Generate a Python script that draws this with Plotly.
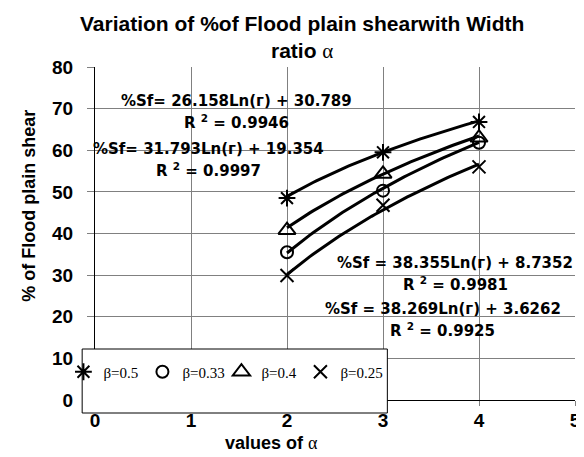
import numpy as np
import plotly.graph_objects as go

# ---- data ----
alpha = [2, 3, 4]
series_names = ["β=0.5", "β=0.33", "β=0.4", "β=0.25"]
shear_b050 = [48.5, 59.5, 66.8]
shear_b033 = [35.5, 50.3, 61.8]
shear_b040 = [40.8, 54.3, 63.0]
shear_b025 = [29.9, 46.8, 56.0]
# printed log trend-line coefficients (%Sf = a*Ln(alpha) + b)
trend_a = [26.158, 38.355, 31.793, 38.269]
trend_b = [30.789, 8.7352, 19.354, 3.6262]
trend_r2 = ["0.9946", "0.9981", "0.9997", "0.9925"]
x_ticks = [0, 1, 2, 3, 4, 5]
y_ticks = [0, 10, 20, 30, 40, 50, 60, 70, 80]

values = [shear_b050, shear_b033, shear_b040, shear_b025]
symbols = ["asterisk-open", "circle-open", "triangle-up-open", "x-thin-open"]
sizes = [14, 12, 15, 13]

SANS = "Liberation Sans"
fig = go.Figure()

xs = np.linspace(min(alpha), max(alpha), 60)
for a, b in zip(trend_a, trend_b):
    fig.add_trace(go.Scatter(x=xs, y=a * np.log(xs) + b, mode="lines",
                             line=dict(color="black", width=3),
                             showlegend=False, hoverinfo="skip"))

for name, v, sym, sz in zip(series_names, values, symbols, sizes):
    fig.add_trace(go.Scatter(x=alpha, y=v, mode="markers", name=name,
                             marker=dict(symbol=sym, size=sz, color="black",
                                         line=dict(color="black", width=2))))

# empty spacer entry so the last legend label is not clipped
fig.add_trace(go.Scatter(x=[None], y=[None], mode="markers", name="",
                         marker=dict(color="rgba(0,0,0,0)", size=1),
                         hoverinfo="skip"))

# equation labels (x center px, y center px)
eq_pos = {0: (230, 93, "%Sf= "), 2: (202, 141, "%Sf= "),
          1: (452, 255, "%Sf = "), 3: (439, 301, "%Sf = ")}
L, R, T, B = 87, 573, 59, 392
def px(xp):
    return (xp - L) / (R - L)
def py(yp):
    return (B - yp) / (B - T)

for i, (cx, cy, pre) in eq_pos.items():
    fig.add_annotation(x=px(cx), y=py(cy), xref="paper", yref="paper",
                       text=f"{pre}{trend_a[i]}Ln(г) + {trend_b[i]}",
                       showarrow=False, xanchor="center", yanchor="middle",
                       font=dict(family="DejaVu Sans", size=15, color="black", weight="bold"))
    fig.add_annotation(x=px(cx), y=py(cy + 21), xref="paper", yref="paper",
                       text=f"R <sup>2</sup> = {trend_r2[i]}",
                       showarrow=False, xanchor="center", yanchor="middle",
                       font=dict(family="DejaVu Sans", size=15, color="black", weight="bold"))

# title
fig.add_annotation(x=px(297), y=py(29), xref="paper", yref="paper",
                   text="Variation of %of Flood plain shearwith Width<br>ratio <span style='font-family:Liberation Serif;font-weight:normal'>α</span>",
                   showarrow=False, xanchor="center", yanchor="middle",
                   font=dict(family=SANS, size=21, color="black", weight="bold"))
# axis titles
fig.add_annotation(x=px(266), y=py(435), xref="paper", yref="paper",
                   text="values of <span style='font-family:Liberation Serif;font-weight:normal'>α</span>",
                   showarrow=False, xanchor="center", yanchor="middle",
                   font=dict(family=SANS, size=18, color="black", weight="bold"))
fig.add_annotation(x=px(20), y=py(198), xref="paper", yref="paper",
                   text="% of Flood plain shear", textangle=-90,
                   showarrow=False, xanchor="center", yanchor="middle",
                   font=dict(family=SANS, size=18, color="black", weight="bold"))

# legend box
fig.add_shape(type="rect", xref="paper", yref="paper",
              x0=px(74), x1=px(383), y0=py(405), y1=py(341),
              fillcolor="white", line=dict(color="black", width=1), layer="above")

axis_common = dict(showgrid=True, gridcolor="#808080", gridwidth=1,
                   showline=True, linecolor="black", linewidth=1,
                   ticks="outside", tickcolor="#808080",
                   zeroline=False,
                   tickfont=dict(family=SANS, size=19, color="black", weight="bold"))

fig.update_layout(
    width=584, height=457,
    margin=dict(l=L, r=584 - R, t=T, b=457 - B),
    plot_bgcolor="white", paper_bgcolor="white",
    xaxis=dict(range=[0, 5], tickvals=x_ticks, ticklen=5, ticklabelstandoff=-2, **axis_common),
    yaxis=dict(range=[0, 80], tickvals=y_ticks, ticklen=7, ticklabelstandoff=10, **axis_common),
    legend=dict(orientation="h", x=px(255), y=py(364), xanchor="center", yanchor="middle",
                bgcolor="rgba(0,0,0,0)", borderwidth=0,
                itemwidth=30, entrywidth=34, entrywidthmode="pixels",
                font=dict(family="Liberation Serif", size=15, color="black")),
    showlegend=True,
)

fig.write_html("out.html")
